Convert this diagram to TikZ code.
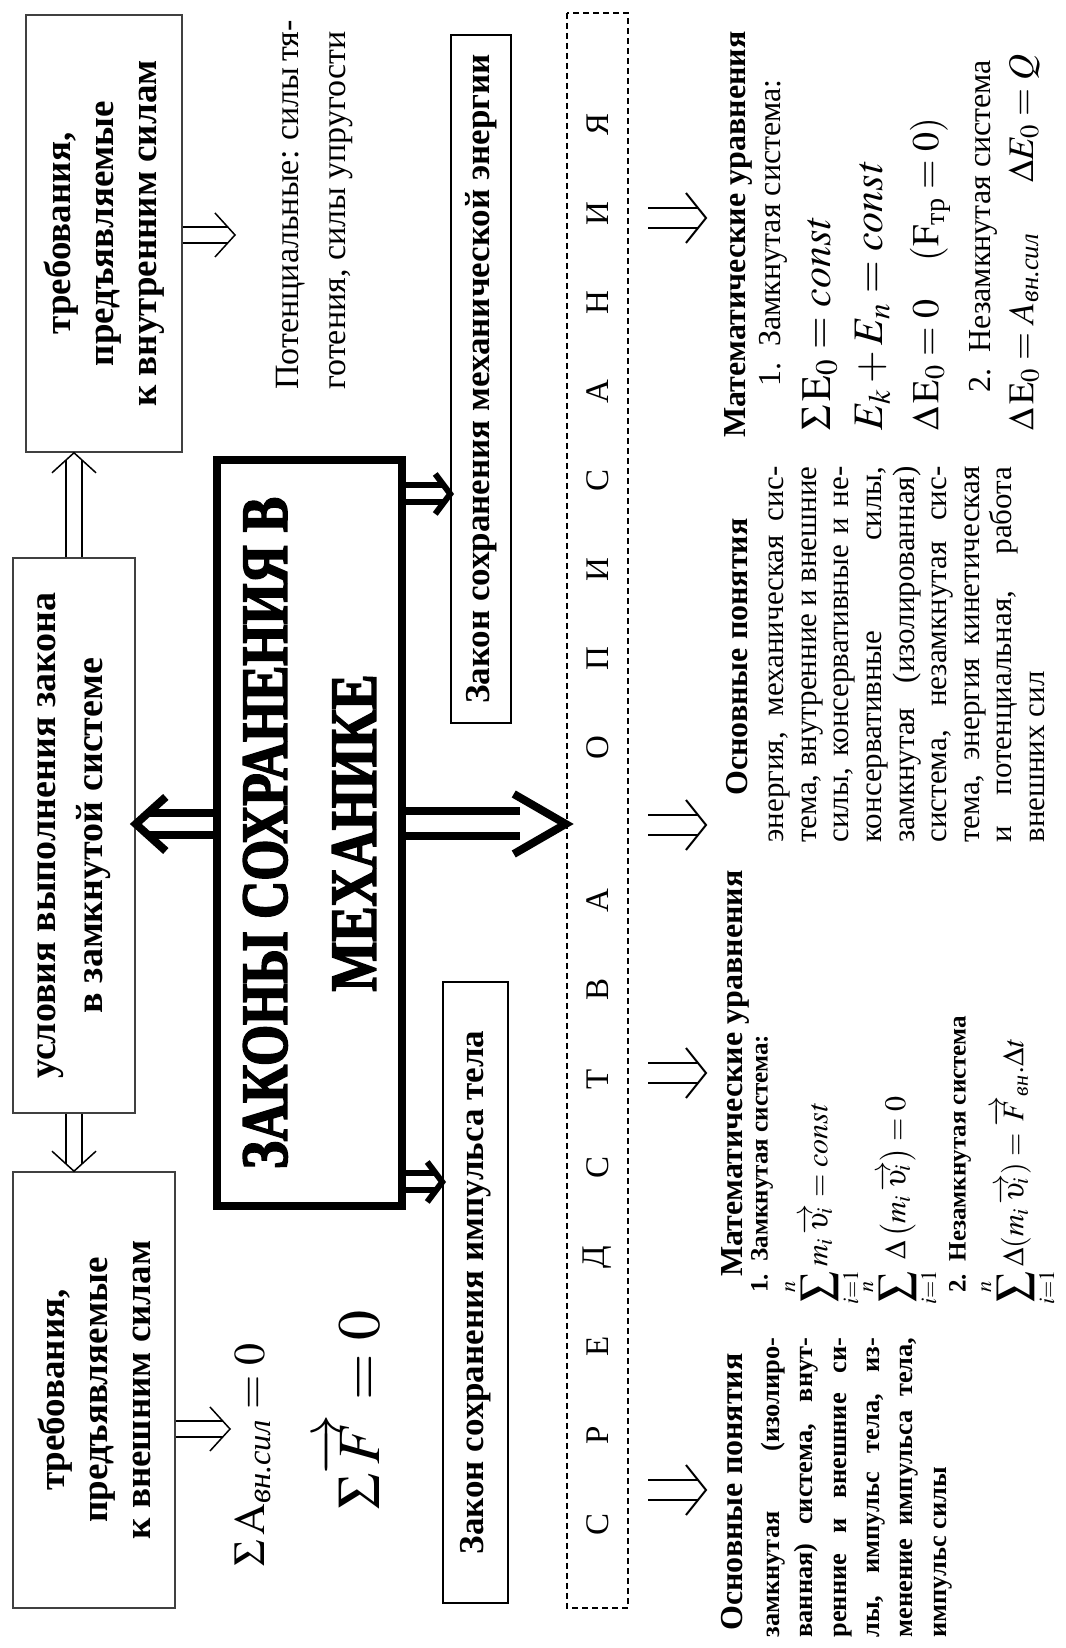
\documentclass[tikz,border=0pt]{standalone}
\usepackage{amsmath}
\usepackage{mathptmx}
\usepackage{fontspec}
\setmainfont{Liberation Serif}
\newfontfamily\titlefont[FakeStretch=0.8,BoldFeatures={FakeBold=2.5}]{Liberation Serif}
\usetikzlibrary{calc}
\newcommand{\fsz}[2]{\fontsize{#1}{#2}\selectfont}
% #1 style, #2 start, #3 tip, #4 half gap, #5 head radius, #6 head angle, #7 shorten
\newcommand{\dblarrow}[7]{%
  \draw[#1, shorten >=#7] ($#2!#4!90:#3$) -- ($#3!#4!-90:#2$);
  \draw[#1, shorten >=#7] ($#2!#4!-90:#3$) -- ($#3!#4!90:#2$);
  \draw[#1, line join=miter] ($#3!#5!#6:#2$) -- #3 -- ($#3!#5!-#6:#2$);
}
\tikzset{
  thinbox/.style={draw=black!75, line width=0.8pt, inner sep=0pt},
  lawbox/.style={draw=black, line width=0.75pt, inner sep=0pt, font=\bfseries\fsz{17.5}{20}},
  thinarr/.style={line width=0.75pt},
  boldarr/.style={line width=4pt},
  smallarr/.style={line width=3pt},
  glypharr/.style={line width=1pt},
  letter/.style={inner sep=0pt, font=\fsz{16.5}{18}},
  para/.style={inner sep=0pt, anchor=west, align=justify},
  lbl/.style={inner sep=0pt, anchor=west}
}
\begin{document}
\begin{tikzpicture}
\begin{scope}[rotate=90, transform shape, x=0.5pt, y=-0.5pt]
\path[use as bounding box, fill=white] (0,0) rectangle (1648,1065);

% top row boxes
\node[thinbox, minimum width=218pt, minimum height=81pt, align=center,
      font=\bfseries\fsz{18.5}{21.5}] (ext) at (258,94)
      {требования,\\предъявляемые\\к внешним силам};
\node[thinbox, minimum width=277.5pt, minimum height=61pt, align=center,
      font=\bfseries\fsz{19}{23.5}] (cond) at (812.5,74)
      {условия выполнения закона\\в замкнутой системе};
\node[thinbox, minimum width=218.5pt, minimum height=78pt, align=center,
      font=\bfseries\fsz{18.5}{21.5}] (int) at (1414.5,104)
      {требования,\\предъявляемые\\к внутренним силам};

% formulas and text near top boxes
\node[lbl, font=\fsz{22}{26}] (sumA) at (81,253)
      {$\Sigma\,\mathrm{A}_{\textit{вн.сил}} = 0$};
\node[lbl, font=\fsz{30}{34}] (sumF) at (138,350)
      {$\Sigma\overrightarrow{F} = 0$};
\node[lbl, font=\fsz{17}{23.5}, align=left] (pot) at (1258,315)
      {\makebox[179pt][s]{Потенциальные: силы тя-}\\\makebox[179pt][s]{готения, силы упругости}};

% main box
\node[draw, line width=4pt, minimum width=373pt, minimum height=92.5pt, align=center,
      inner sep=0pt, font=\titlefont\bfseries\fsz{33}{44.5}] (main) at (815,309.5)
      {ЗАКОНЫ СОХРАНЕНИЯ В\\МЕХАНИКЕ};

% law boxes
\node[lawbox, minimum width=310.5pt, minimum height=32.5pt] (imp) at (355.5,475.5)
      {Закон сохранения импульса тела};
\node[lawbox, minimum width=344pt, minimum height=30pt] (en) at (1269,481)
      {Закон сохранения механической энергии};

% dashed box with spaced letters
\node[draw, dash pattern=on 3pt off 2pt, line width=1.3pt, minimum width=797.5pt,
      minimum height=30.5pt, inner sep=0pt] (dash) at (837.5,597.5) {};
\foreach \u/\c [count=\i] in {124/С,213/Р,302/Е,391/Д,480/С,569/Т,658/В,747/А,
    900/О,989/П,1078/И,1167/С,1256/А,1345/Н,1434/И,1523/Я}
  \node[letter] (L\i) at (\u,597.5) {\c};

% coordinates for arrow positions
\coordinate (ax) at (824,0);
\coordinate (ai) at (466,0);
\coordinate (ae) at (1154,0);
\coordinate (a7) at (219,230);
\coordinate (a8) at (1413,235);
\coordinate (g1s) at (158,648);  \coordinate (g1t) at (158,706);
\coordinate (g2s) at (575,648);  \coordinate (g2t) at (575,706);
\coordinate (g3s) at (823,648);  \coordinate (g3t) at (823,706);
\coordinate (g4s) at (1430,648); \coordinate (g4t) at (1430,706);

% thin double arrows
\dblarrow{thinarr}{(cond.east)}{(cond.east -| int.west)}{4pt}{14.87pt}{47.7}{3.5pt}
\dblarrow{thinarr}{(cond.west)}{(cond.west -| ext.east)}{4pt}{14.87pt}{47.7}{3.5pt}
\dblarrow{thinarr}{(ext.south -| a7)}{(a7)}{4pt}{14.87pt}{47.7}{3.5pt}
\dblarrow{thinarr}{(int.south -| a8)}{(a8)}{4pt}{14.87pt}{47.7}{3.5pt}

% bold arrows from main box
\dblarrow{boldarr}{(main.north -| ax)}{(cond.south -| ax)}{5.5pt}{20.18pt}{42}{7pt}
\dblarrow{boldarr}{(main.south -| ax)}{(dash.north -| ax)}{6.25pt}{30pt}{30}{23pt}
\dblarrow{smallarr}{(main.south -| ai)}{(imp.north -| ai)}{4.25pt}{12.5pt}{53.1}{3pt}
\dblarrow{smallarr}{(main.south -| ae)}{(en.north -| ae)}{4.25pt}{12.5pt}{53.1}{3pt}

% arrows below dashed box
\dblarrow{glypharr}{(g1s)}{(g1t)}{5pt}{16pt}{51.3}{4pt}
\dblarrow{glypharr}{(g2s)}{(g2t)}{5pt}{16pt}{51.3}{4pt}
\dblarrow{glypharr}{(g3s)}{(g3t)}{5pt}{16pt}{51.3}{4pt}
\dblarrow{glypharr}{(g4s)}{(g4t)}{5pt}{16pt}{51.3}{4pt}

% column 1: impulse basic notions
\node[inner sep=0pt, font=\bfseries\fsz{16}{18}] (c1t) at (156,732) {Основные понятия};
\node[para, text width=150pt, font=\bfseries\fsz{13.2}{16.7}] (c1b) at (10,856.5)
  {замкнутая (изолиро-\linebreak ванная) система, внут-\linebreak ренние и внешние си-\linebreak
   лы, импульс тела, из-\linebreak менение импульса тела,\linebreak импульс силы};

% column 2: impulse equations
\node[lbl, font=\bfseries\fsz{16}{18}] (c2t) at (371,735) {Математические уравнения};
\node[lbl, font=\bfseries\fsz{12.5}{14}] (c2a) at (355,762) {1.\enspace Замкнутая система:};
\node[lbl, font=\fsz{15}{17}] (c2f1) at (343,822)
  {$\displaystyle\sum_{i=1}^{n} m_i\,\overrightarrow{\upsilon_i} = \mathit{const}$};
\node[lbl, font=\fsz{15}{17}] (c2f2) at (343,900)
  {$\displaystyle\sum_{i=1}^{n}\ \Delta\left(m_i\,\overrightarrow{\upsilon_i}\right) = 0$};
\node[lbl, font=\bfseries\fsz{12.5}{14}] (c2b) at (355,960) {2.\enspace Незамкнутая система};
\node[lbl, font=\fsz{15}{17}] (c2f3) at (343,1018)
  {$\displaystyle\sum_{i=1}^{n}\Delta(m_i\,\overrightarrow{\upsilon_i}) = \overrightarrow{F}_{\textit{вн}}.\Delta t$};

% column 3: energy basic notions
\node[inner sep=0pt, font=\bfseries\fsz{16}{18}] (c3t) at (991,737) {Основные понятия};
\node[para, text width=188pt, font=\fsz{15.5}{16.3}] (c3b) at (805,907)
  {энергия, механическая сис-\linebreak тема, внутренние и внешние\linebreak
   силы, консервативные и не-\linebreak консервативные силы,\linebreak
   замкнутая (изолированная)\linebreak система, незамкнутая сис-\linebreak
   тема, энергия кинетическая\linebreak и потенциальная, работа\linebreak внешних сил};

% column 4: energy equations
\node[lbl, font=\bfseries\fsz{16}{18}] (c4t) at (1210,738) {Математические уравнения};
\node[lbl, font=\fsz{16}{18}] (c4a) at (1261,773) {1.\enspace Замкнутая система:};
\node[lbl, font=\fsz{21}{24}] (c4f1) at (1217,820) {$\Sigma\,\mathrm{E}_0 = \mathit{const}$};
\node[lbl, font=\fsz{21}{24}] (c4f2) at (1217,873) {$E_k + E_n = \mathit{const}$};
\node[lbl, font=\fsz{19}{22}] (c4f3) at (1217,930)
  {$\Delta\,\mathrm{E}_0 = 0\quad (\mathrm{F}_{\text{тр}} = 0)$};
\node[lbl, font=\fsz{16}{18}] (c4b) at (1255,983) {2.\enspace Незамкнутая система};
\node[lbl, font=\fsz{18}{21}] (c4f4) at (1217,1024)
  {$\Delta\,\mathrm{E}_0 = A_{\textit{вн.сил}}$};
\node[lbl, font=\fsz{18}{21}] (c4f5) at (1465,1024) {$\Delta E_0 = Q$};
\end{scope}
\end{tikzpicture}
\end{document}
